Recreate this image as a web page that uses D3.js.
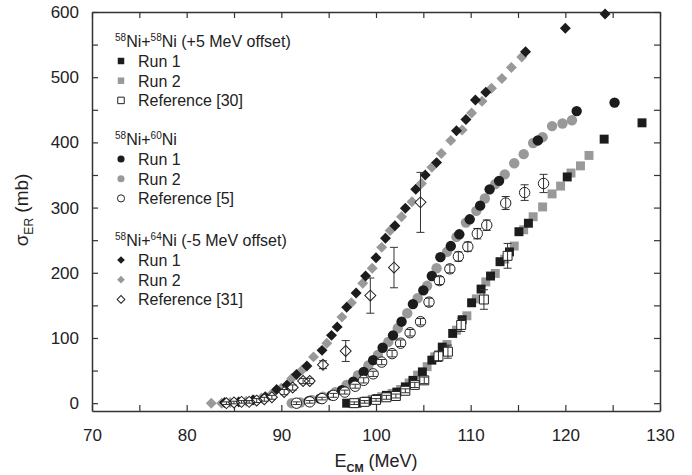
<!DOCTYPE html>
<html>
<head>
<meta charset="utf-8">
<script src="https://cdn.jsdelivr.net/npm/d3@7"></script>
<style>
  body { margin: 0; background: #fff; }
  text { font-family: "Liberation Sans", Arial, sans-serif; fill: #222; }
</style>
</head>
<body>
<script>
// data: [E_cm (MeV), sigma_ER (mb), error]
var ni58Run1 = [[96.9,0],[98.0,0],[99.0,3],[100.1,7],[101.1,12],[102.2,17],[103.1,25],[103.9,35],[104.9,48],[105.9,66],[107.0,86],[108.1,107],[109.1,128],[110.1,154],[111.1,175],[112.1,195],[113.1,217],[114.1,232],[115.1,263],[116.1,276],[120.2,347],[124.1,405],[128.1,430]];
var ni58Run2 = [[97.4,0],[98.5,2],[99.6,6],[100.6,10],[101.7,15],[102.6,21],[103.5,31],[104.4,43],[105.4,56],[106.2,71],[107.5,90],[108.5,112],[109.6,134],[110.6,160],[111.6,186],[112.6,199],[113.6,221],[114.6,241],[115.6,266],[116.6,286],[117.6,301],[118.6,321],[119.5,333],[120.6,353],[121.6,364],[122.5,380]];
var ref30 = [[97.7,0,2],[98.8,2,2],[100.0,5,2],[101.1,9,3],[102.1,11,3],[103.1,19,3],[104.1,28,4],[105.1,35,5],[106.6,72,8],[107.6,79,10],[109.0,120,10],[111.4,159,15],[113.9,226,19]];

var ni60Run1 = [[91.6,0],[92.9,3],[94.1,7],[95.3,12],[96.4,20],[97.6,33],[98.7,48],[99.7,66],[100.7,85],[101.8,104],[102.7,125],[103.9,152],[105.0,173],[105.9,195],[106.8,224],[107.9,241],[108.8,259],[109.9,282],[111.0,303],[112.0,328],[113.0,341],[117.1,403],[121.2,448],[125.2,461]];
var ni60Run2 = [[91.1,0],[92.0,1],[93.2,5],[94.4,10],[95.7,17],[96.9,28],[98.1,43],[99.2,58],[100.2,74],[101.3,94],[102.3,115],[103.3,138],[104.4,161],[105.4,180],[106.4,207],[107.5,232],[108.5,255],[109.5,277],[110.6,295],[111.5,314],[112.6,336],[113.6,351],[114.6,368],[115.6,382],[116.6,399],[117.6,408],[118.6,425],[119.7,429],[120.7,434]];
var ref5 = [[91.6,0,2],[93.0,2,2],[94.3,7,2],[95.5,12,3],[96.7,17,3],[97.8,26,3],[98.7,35,4],[99.7,45,4],[100.6,63,4],[101.7,76,5],[102.6,92,5],[103.6,108,5],[104.7,125,5],[105.6,155,6],[106.7,188,6],[107.8,206,6],[108.7,225,7],[109.7,240,7],[110.7,260,8],[111.7,273,8],[113.7,307,10],[115.7,323,12],[117.7,337,14]];

var ni64Run1 = [[84.0,1],[85.5,2],[87.0,5],[88.3,10],[89.5,21],[90.6,28],[91.6,44],[92.7,57],[94.3,81],[95.3,104],[95.9,117],[96.9,147],[97.9,169],[98.9,195],[100.0,223],[101.0,253],[102.0,272],[103.1,299],[104.2,328],[105.2,350],[106.4,369],[108.5,418],[109.5,435],[110.5,465],[111.6,477],[115.8,539],[120.0,575],[124.2,597]];
var ni64Run2 = [[82.6,0],[83.7,0],[84.6,1],[85.5,2],[86.3,3],[87.1,5],[87.9,8],[88.9,13],[90.0,23],[91.1,38],[92.2,51],[93.4,71],[94.8,92],[96.4,132],[97.4,154],[98.6,184],[99.6,207],[100.6,239],[101.5,265],[102.7,286],[103.8,309],[104.8,337],[105.9,362],[106.9,383],[107.9,403],[109.1,419],[110.1,445],[111.2,463],[112.2,483],[113.3,498],[114.3,515],[115.4,531]];
var ref31 = [[84.2,0,2],[85.0,1,2],[85.8,2,2],[86.6,2,2],[87.4,4,3],[88.2,6,3],[89.0,9,3],[90.3,17,4],[91.2,24,4],[92.3,34,4],[93.0,34,4],[94.4,59,6],[96.8,80,16],[99.4,165,27],[101.9,208,31],[104.7,308,46]];

var xTicks = [70,80,90,100,110,120,130];
var yTicks = [0,100,200,300,400,500,600];

var legendTitles = [["58","Ni+","58","Ni (+5 MeV offset)"],["58","Ni+","60","Ni"],["58","Ni+","64","Ni (-5 MeV offset)"]];
var legendRuns = ["Run 1","Run 2"];
var legendRefs = ["Reference [30]","Reference [5]","Reference [31]"];

var black = "#1c1c1c", grey = "#999999";

var svg = d3.select("body").append("svg").attr("width",692).attr("height",475);

var x = d3.scaleLinear().domain([70,130]).range([92,660]);
var y = d3.scaleLinear().domain([-12,600]).range([411,12]);

// axes, ticks pointing inward on all four sides
svg.append("g").attr("transform","translate(0,411)")
  .call(d3.axisBottom(x).tickValues(d3.range(70,131,5)).tickSize(-6).tickSizeOuter(0).tickPadding(18)
    .tickFormat(function(d){ return xTicks.indexOf(d) >= 0 ? d : ""; }));
svg.append("g").attr("transform","translate(92,0)")
  .call(d3.axisLeft(y).tickValues(d3.range(0,601,50)).tickSize(-6).tickSizeOuter(0).tickPadding(13)
    .tickFormat(function(d){ return yTicks.indexOf(d) >= 0 ? d : ""; }));
svg.append("g").attr("transform","translate(0,12)")
  .call(d3.axisTop(x).tickValues(d3.range(70,131,5)).tickSize(-6).tickSizeOuter(0).tickFormat(""));
svg.append("g").attr("transform","translate(660,0)")
  .call(d3.axisRight(y).tickValues(d3.range(0,601,50)).tickSize(-6).tickSizeOuter(0).tickFormat(""));

svg.selectAll(".tick line").attr("stroke","#333").attr("stroke-width",1.2);
svg.selectAll(".domain").attr("stroke","#333").attr("stroke-width",1.5);
svg.selectAll(".tick text").style("font-size","17px").attr("fill","#222")
  .style("font-family","'Liberation Sans', Arial, sans-serif");

// axis titles
var xl = svg.append("text").attr("x",376).attr("y",467).attr("text-anchor","middle").style("font-size","18px");
xl.append("tspan").text("E");
xl.append("tspan").attr("dy",5).style("font-size","11px").style("font-weight","bold").text("CM");
xl.append("tspan").attr("dy",-5).text(" (MeV)");

var yl = svg.append("text").attr("transform","translate(28,210) rotate(-90)").attr("text-anchor","middle").style("font-size","19px");
yl.append("tspan").text("σ");
yl.append("tspan").attr("dy",5).style("font-size","12px").text("ER");
yl.append("tspan").attr("dy",-5).text(" (mb)");

// markers
var square = d3.symbol().type(d3.symbolSquare).size(80)();
var circle = d3.symbol().type(d3.symbolCircle).size(85)();
var diamond = d3.symbol().type(d3.symbolSquare).size(60)();

function drawErr(data) {
  var g = svg.append("g").attr("stroke","#333").attr("stroke-width",1);
  data.forEach(function(d){
    g.append("line").attr("x1",x(d[0])).attr("x2",x(d[0])).attr("y1",y(d[1]-d[2])).attr("y2",y(d[1]+d[2]));
    g.append("line").attr("x1",x(d[0])-4).attr("x2",x(d[0])+4).attr("y1",y(d[1]-d[2])).attr("y2",y(d[1]-d[2]));
    g.append("line").attr("x1",x(d[0])-4).attr("x2",x(d[0])+4).attr("y1",y(d[1]+d[2])).attr("y2",y(d[1]+d[2]));
  });
}

function drawPts(data, shape, fill, open, rot) {
  svg.append("g").selectAll("path").data(data).enter().append("path")
    .attr("d",shape)
    .attr("transform",function(d){ return "translate("+x(d[0])+","+y(d[1])+")"+(rot ? " rotate(45)" : ""); })
    .attr("fill", open ? "none" : fill)
    .attr("stroke", open ? "#222" : "none")
    .attr("stroke-width",1);
}

drawPts(ni58Run2, square, grey, false, false);
drawPts(ni60Run2, circle, grey, false, false);
drawPts(ni64Run2, diamond, grey, false, true);
drawPts(ni58Run1, square, black, false, false);
drawPts(ni60Run1, circle, black, false, false);
drawPts(ni64Run1, diamond, black, false, true);

[[ref30,square,false],[ref5,circle,false],[ref31,diamond,true]].forEach(function(r){
  svg.append("g").selectAll("path").data(r[0]).enter().append("path")
    .attr("d",r[1])
    .attr("transform",function(d){ return "translate("+x(d[0])+","+y(d[1])+")"+(r[2] ? " rotate(45)" : ""); })
    .attr("fill","#fff");
  drawErr(r[0]);
  drawPts(r[0], r[1], null, true, r[2]);
});

// legend
var legShapes = [d3.symbol().type(d3.symbolSquare).size(42)(), d3.symbol().type(d3.symbolCircle).size(40)(), d3.symbol().type(d3.symbolSquare).size(30)()];
var groupTop = [41, 139, 240];
legendTitles.forEach(function(t, gi){
  var ty = groupTop[gi];
  var tt = svg.append("text").attr("x",115).attr("y",ty+6).style("font-size","16px");
  tt.append("tspan").style("font-size","10px").attr("dy",-6).text(t[0]);
  tt.append("tspan").attr("dy",6).text(t[1]);
  tt.append("tspan").style("font-size","10px").attr("dy",-6).text(t[2]);
  tt.append("tspan").attr("dy",6).text(t[3]);
  var items = [[legendRuns[0], black, false],[legendRuns[1], grey, false],[legendRefs[gi], "#fff", true]];
  items.forEach(function(it, ii){
    var iy = ty + 20 + ii*19.7;
    svg.append("path").attr("d",legShapes[gi])
      .attr("transform","translate(121,"+iy+")"+(gi===2 ? " rotate(45)" : ""))
      .attr("fill",it[1]).attr("stroke", it[2] ? "#222" : "none").attr("stroke-width",1);
    svg.append("text").attr("x",138).attr("y",iy+6).style("font-size","16px").text(it[0]);
  });
});
</script>
</body>
</html>
